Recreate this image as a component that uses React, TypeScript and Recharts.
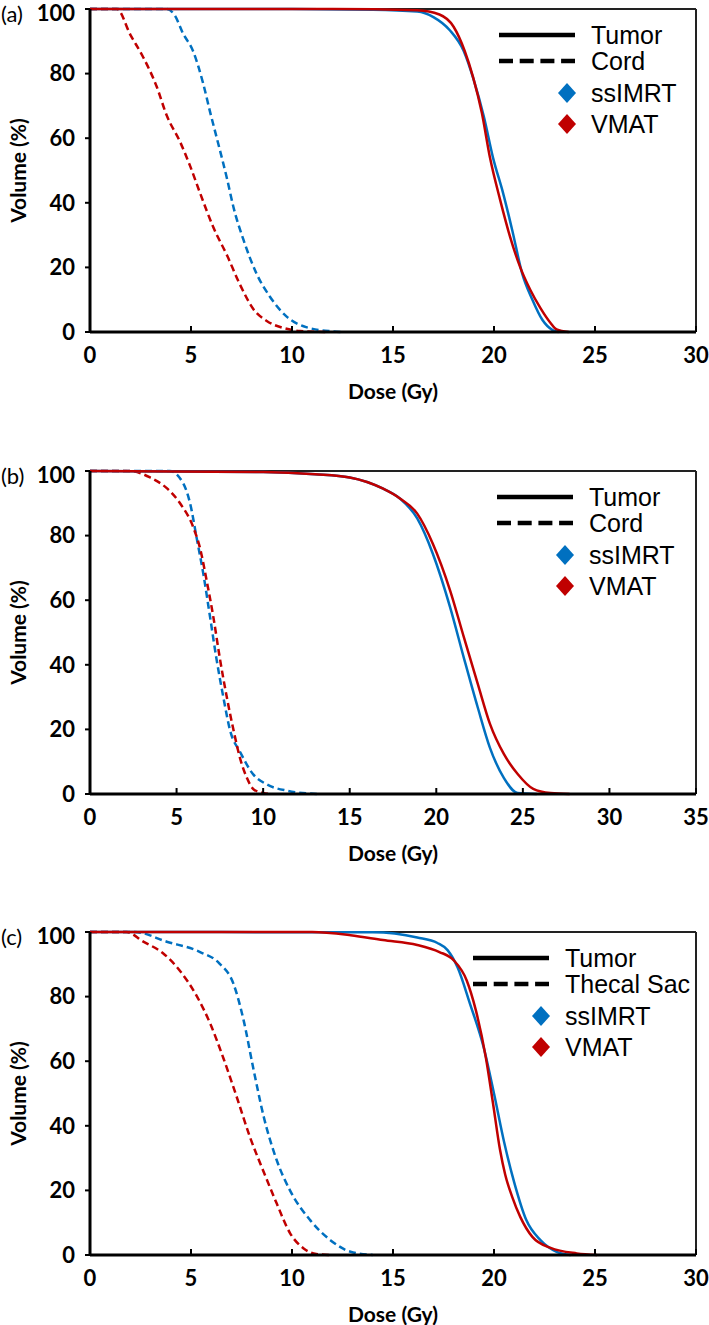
import React from "react";
import { LineChart, Line, XAxis, YAxis, ReferenceLine, Legend } from "recharts";

type Pt = [number, number];

const BLUE = "#0070C0";
const RED = "#C00000";
const FONT = "Lato, 'Open Sans', sans-serif";
const LEGEND_FONT = "'Liberation Sans', Arial, sans-serif";

// (a) dose (Gy) -> volume (%)
const aTumorSsimrt: Pt[] = [
  [0, 100], [10, 100], [14, 99.8], [16.2, 99.2], [17, 97.5], [17.8, 93.5], [18.5, 87], [19, 78],
  [19.5, 66.6], [19.95, 54], [20.45, 43], [20.9, 31.6], [21.4, 18], [21.9, 10], [22.4, 3.7],
  [22.9, 0.6], [23.2, 0],
];
const aTumorVmat: Pt[] = [
  [0, 100], [12, 100], [16.2, 99.6], [17.3, 98.3], [18, 94.5], [18.55, 87], [18.96, 79],
  [19.4, 67.8], [19.8, 54], [20.3, 41], [20.8, 29.4], [21.3, 20], [21.8, 13], [22.3, 7.4],
  [22.8, 2.8], [23.1, 0.8], [23.7, 0],
];
const aCordSsimrt: Pt[] = [
  [0, 100], [3.8, 100], [4.2, 98], [4.6, 92.5], [5.1, 87], [5.6, 77], [5.95, 68], [6.3, 59.5],
  [6.8, 47], [7.1, 38.7], [7.6, 28.5], [8.25, 18], [8.9, 11], [9.75, 4.7], [10.7, 1.5],
  [12, 0.2], [12.4, 0],
];
const aCordVmat: Pt[] = [
  [0, 100], [1.33, 100], [2.0, 92], [2.64, 85], [3.3, 76], [3.8, 67], [4.45, 59], [4.95, 51.5],
  [5.45, 43], [6.1, 32.5], [6.8, 23.5], [7.4, 15], [8.1, 7], [8.75, 3.4], [9.6, 1.2],
  [10.4, 0.3], [11.7, 0],
];

// (b)
const bTumorSsimrt: Pt[] = [
  [0, 100], [10, 99.7], [13, 99], [15, 98], [16.9, 94.6], [17.9, 91.5], [18.9, 85.3],
  [19.8, 74.4], [20.8, 57.8], [21.6, 42], [22.4, 26.7], [23.1, 14.3], [23.9, 5], [24.7, 0.3],
  [25.8, 0],
];
const bTumorVmat: Pt[] = [
  [0, 100], [10, 99.7], [13, 99], [15, 98], [16.9, 94.6], [17.9, 91.5], [18.9, 86.8],
  [19.8, 77.5], [20.8, 63], [21.6, 48.4], [22.4, 34], [23.1, 21.7], [23.9, 12.4], [24.7, 6.2],
  [25.6, 1.6], [26.6, 0.3], [27.7, 0],
];
const bCordSsimrt: Pt[] = [
  [0, 100], [4.6, 100], [5.4, 96], [5.78, 90], [6.17, 79], [6.55, 68], [6.94, 54.6], [7.3, 42],
  [7.7, 30], [8.1, 19.5], [8.67, 13], [9.44, 6], [10.2, 3], [11.4, 1], [13.1, 0],
];
const bCordVmat: Pt[] = [
  [0, 100], [2.3, 100], [3.47, 98], [4.45, 94.6], [5.2, 90], [5.97, 82.5], [6.36, 76],
  [6.74, 66], [7.13, 54.6], [7.5, 42], [7.9, 30], [8.3, 19.5], [8.67, 11], [9.06, 5],
  [9.44, 1.5], [10, 0.3], [10.4, 0],
];

// (c)
const cTumorSsimrt: Pt[] = [
  [0, 100], [14, 99.9], [16.2, 98.3], [17.2, 96.6], [17.7, 94.4], [18.2, 89], [18.8, 78],
  [19.5, 64], [20.0, 50], [20.5, 35], [21.0, 22.5], [21.6, 10.8], [22.3, 4.6], [23.1, 1],
  [23.8, 0],
];
const cTumorVmat: Pt[] = [
  [0, 100], [11, 100], [12.9, 99], [14.5, 97.5], [16.2, 96], [17.3, 93.8], [18, 91.3],
  [18.65, 85], [19.1, 75.8], [19.6, 61], [19.95, 47], [20.3, 32.5], [20.55, 25], [20.9, 18],
  [21.3, 11.8], [21.9, 5.6], [22.8, 2.2], [24.1, 0.5], [25.1, 0],
];
const cSacSsimrt: Pt[] = [
  [0, 100], [2.2, 100], [3.8, 97], [5.45, 93.8], [6.4, 90.3], [7.1, 84], [7.6, 72.8],
  [8.1, 57.3], [8.6, 42.8], [9.24, 29.4], [9.9, 20], [10.9, 10.8], [11.9, 4.6], [12.9, 1],
  [14, 0],
];
const cSacVmat: Pt[] = [
  [0, 100], [1.8, 100], [2.64, 97], [3.6, 93.5], [4.45, 88], [5.3, 80], [5.94, 71.8], [6.6, 61],
  [7.26, 49], [7.92, 36.5], [8.58, 26], [9.24, 16], [9.9, 6.8], [10.56, 2.1], [11.2, 0.3],
  [11.9, 0],
];

const yTicks = [0, 20, 40, 60, 80, 100];
const xTicks30 = [0, 5, 10, 15, 20, 25, 30];
const xTicks35 = [0, 5, 10, 15, 20, 25, 30, 35];

const toRows = (pts: Pt[]) => pts.map(([dose, vol]) => ({ dose, vol }));

const W = 709;
const H = 420;
const margin = { top: 9, right: 13, bottom: 20, left: 30 };
const Y_AXIS_W = 60;
const X_AXIS_H = 68;
const PLOT_W = W - margin.left - margin.right - Y_AXIS_W;
const PLOT_H = H - margin.top - margin.bottom - X_AXIS_H;

const XTick = (props: any) => {
  const { x, y, payload } = props;
  return (
    <g>
      <line x1={x} x2={x} y1={y} y2={y - 6} stroke="#000" strokeWidth={2} />
      <text x={x} y={y + 31} textAnchor="middle" fill="#000" fontFamily={FONT} fontWeight={700} fontSize={22}>
        {payload.value}
      </text>
    </g>
  );
};

const XLabel = () => {
  const cx = margin.left + Y_AXIS_W + PLOT_W / 2;
  return (
    <text x={cx} y={margin.top + PLOT_H + 67} textAnchor="middle" fill="#000" fontFamily={FONT} fontWeight={700} fontSize={21}>
      Dose (Gy)
    </text>
  );
};

const YLabel = () => {
  const cx = 17;
  const cy = margin.top + PLOT_H / 2;
  return (
    <text x={cx} y={cy} transform={`rotate(-90 ${cx} ${cy})`} textAnchor="middle" dominantBaseline="central" fill="#000" fontFamily={FONT} fontWeight={700} fontSize={21}>
      Volume (%)
    </text>
  );
};

const LegendBox = ({ organ }: { organ: string }) => {
  const t = { fontFamily: LEGEND_FONT, fontSize: 25, fill: "#000", dominantBaseline: "central" as const };
  return (
    <svg width={230} height={118} style={{ display: "block", overflow: "visible" }}>
      <line x1={0} x2={76} y1={14} y2={14} stroke="#000" strokeWidth={4.5} />
      <text x={92} y={14} {...t}>Tumor</text>
      <line x1={0} x2={76} y1={40} y2={40} stroke="#000" strokeWidth={4.5} strokeDasharray="14 6.7" />
      <text x={92} y={40} {...t}>{organ}</text>
      <polygon points="68,62 77,72 68,82 59,72" fill={BLUE} />
      <text x={92} y={72} {...t}>ssIMRT</text>
      <polygon points="68,93 77,103 68,113 59,103" fill={RED} />
      <text x={92} y={103} {...t}>VMAT</text>
    </svg>
  );
};

type PanelProps = {
  tag: string;
  top: number;
  xMax: number;
  xTicks: number[];
  organ: string;
  legendLeft: number;
  tumorSsimrt: Pt[];
  tumorVmat: Pt[];
  organSsimrt: Pt[];
  organVmat: Pt[];
};

const Panel = (p: PanelProps) => (
  <div style={{ position: "absolute", left: 0, top: p.top, width: W, height: H }}>
    <LineChart width={W} height={H} margin={margin}>
      <XAxis
        type="number"
        dataKey="dose"
        domain={[0, p.xMax]}
        ticks={p.xTicks}
        height={X_AXIS_H}
        tickLine={false}
        tickSize={0}
        tickMargin={0}
        tick={<XTick />}
        axisLine={{ stroke: "#000", strokeWidth: 3 }}
        label={<XLabel />}
      />
      <YAxis
        type="number"
        domain={[0, 100]}
        ticks={yTicks}
        width={Y_AXIS_W}
        tickSize={5}
        tickMargin={10}
        tickLine={{ stroke: "#000", strokeWidth: 2 }}
        tick={{ fill: "#000", fontFamily: FONT, fontWeight: 700, fontSize: 22 }}
        axisLine={{ stroke: "#000", strokeWidth: 3 }}
        label={<YLabel />}
      />
      <ReferenceLine y={100} stroke="#222" strokeWidth={2} />
      <ReferenceLine x={p.xMax} stroke="#222" strokeWidth={2} />
      <Line data={toRows(p.organSsimrt)} dataKey="vol" type="monotone" stroke={BLUE} strokeWidth={2.5} strokeDasharray="7 4" dot={false} activeDot={false} isAnimationActive={false} />
      <Line data={toRows(p.organVmat)} dataKey="vol" type="monotone" stroke={RED} strokeWidth={2.5} strokeDasharray="7 4" dot={false} activeDot={false} isAnimationActive={false} />
      <Line data={toRows(p.tumorSsimrt)} dataKey="vol" type="monotone" stroke={BLUE} strokeWidth={2.5} dot={false} activeDot={false} isAnimationActive={false} />
      <Line data={toRows(p.tumorVmat)} dataKey="vol" type="monotone" stroke={RED} strokeWidth={2.5} dot={false} activeDot={false} isAnimationActive={false} />
      <Legend
        layout="horizontal"
        verticalAlign="middle"
        wrapperStyle={{ left: p.legendLeft, top: 21, width: 230, height: 118 }}
        content={() => <LegendBox organ={p.organ} />}
      />
    </LineChart>
    <div style={{ position: "absolute", left: 1, top: 0, fontFamily: FONT, fontSize: 22, lineHeight: "normal", color: "#000" }}>
      {p.tag}
    </div>
  </div>
);

export default function App() {
  return (
    <div style={{ position: "absolute", left: 0, top: 0, width: W, height: 1325, overflow: "hidden", background: "#fff" }}>
      <Panel tag="(a)" top={0} xMax={30} xTicks={xTicks30} organ="Cord" legendLeft={499}
        tumorSsimrt={aTumorSsimrt} tumorVmat={aTumorVmat} organSsimrt={aCordSsimrt} organVmat={aCordVmat} />
      <Panel tag="(b)" top={462} xMax={35} xTicks={xTicks35} organ="Cord" legendLeft={497}
        tumorSsimrt={bTumorSsimrt} tumorVmat={bTumorVmat} organSsimrt={bCordSsimrt} organVmat={bCordVmat} />
      <Panel tag="(c)" top={923} xMax={30} xTicks={xTicks30} organ="Thecal Sac" legendLeft={473}
        tumorSsimrt={cTumorSsimrt} tumorVmat={cTumorVmat} organSsimrt={cSacSsimrt} organVmat={cSacVmat} />
    </div>
  );
}
